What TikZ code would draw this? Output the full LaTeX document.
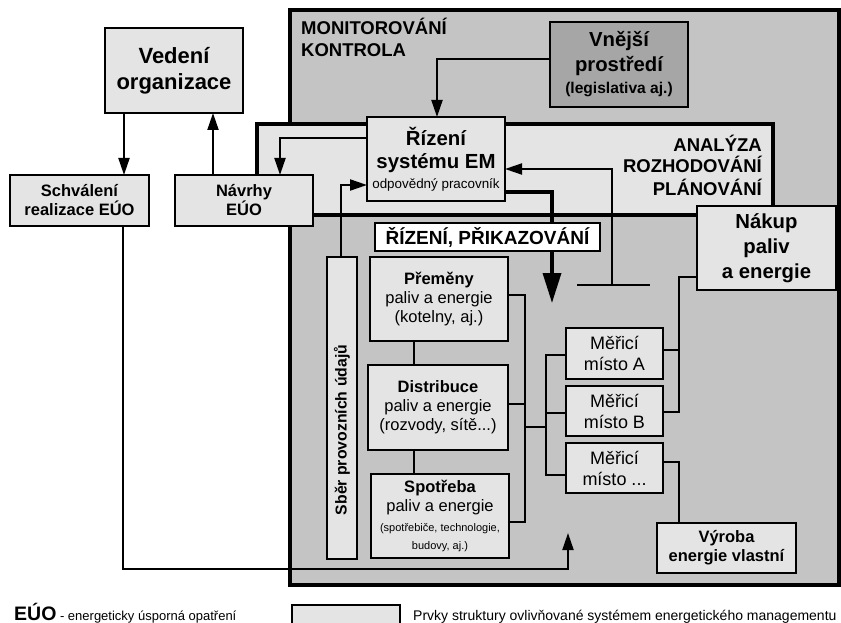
\documentclass[tikz,border=0pt]{standalone}
\usepackage{fontspec}
\setmainfont{Liberation Sans}
\usetikzlibrary{arrows.meta}
\definecolor{midg}{RGB}{196,196,196}
\definecolor{lightg}{RGB}{228,228,228}
\definecolor{darkg}{RGB}{166,166,166}
\newcommand{\fsz}[2]{\fontsize{#1}{#2}\selectfont}
\tikzset{
  region/.style={draw, line width=3.4pt, anchor=north west, outer sep=0pt, inner sep=0pt},
  box/.style={draw, line width=2.4pt, fill=lightg, anchor=north west, outer sep=0pt, inner sep=0pt, align=center},
  conn/.style={line width=2pt},
  arr/.style={conn, -{Triangle[length=17pt,width=11pt]}},
  thickarr/.style={line width=3.4pt, -{Triangle[length=30pt,width=18pt]}},
  midb/.style={font=\bfseries\fsz{16.5}{19}},
  title/.style={inner sep=0pt, font=\bfseries\fsz{18.5}{22}},
}
\begin{document}
\begin{tikzpicture}[x=1pt,y=-1pt]
\useasboundingbox (0,0) rectangle (841,623);

% regions
\node[region, fill=midg, minimum width=549pt, minimum height=575pt] (mon) at (290,10) {};
\node[region, fill=lightg, minimum width=516pt, minimum height=91pt] (ana) at (257,124) {};
\node[title, anchor=base west] (monA) at (301,35) {MONITOROVÁNÍ};
\node[title, anchor=base west] (monB) at (301,57) {KONTROLA};
\node[title, anchor=base east] (anaA) at (762,152) {ANALÝZA};
\node[title, anchor=base east] (anaB) at (762,173) {ROZHODOVÁNÍ};
\node[title, anchor=base east] (anaC) at (762,195) {PLÁNOVÁNÍ};

% boxes
\node[box, minimum width=138pt, minimum height=85pt, font=\bfseries\fsz{22}{26}] (ved) at (105,28) {Vedení\\organizace};
\node[box, minimum width=139pt, minimum height=51pt, midb] (sch) at (10,175) {Schválení\\realizace EÚO};
\node[box, minimum width=138pt, minimum height=51pt, midb] (nav) at (175,175) {Návrhy\\EÚO};
\node[box, minimum width=138pt, minimum height=84pt, font=\bfseries\fsz{20.4}{23}] (riz) at (367,117) {Řízení\\systému EM\\[-3pt]{\mdseries\fsz{13.4}{15}odpovědný pracovník}};
\node[box, fill=darkg, minimum width=138pt, minimum height=85pt, font=\bfseries\fsz{20.3}{25}] (vne) at (550,22) {Vnější\\prostředí\\[-3pt]{\fsz{15.6}{19}(legislativa aj.)}};
\node[box, minimum width=139pt, minimum height=84pt, font=\bfseries\fsz{20.3}{25}] (nak) at (697,206) {Nákup\\paliv\\a energie};
\node[box, minimum width=138pt, minimum height=84pt, midb] (pre) at (370,257) {Přeměny\\{\mdseries paliv a energie}\\{\mdseries (kotelny, aj.)}};
\node[box, minimum width=140pt, minimum height=85pt, midb] (dis) at (368,365) {Distribuce\\{\mdseries paliv a energie}\\{\mdseries (rozvody, sítě...)}};
\node[box, minimum width=138pt, minimum height=84pt, midb] (spo) at (371,474) {Spotřeba\\{\mdseries paliv a energie}\\[1pt]{\mdseries\fsz{11}{13}(spotřebiče, technologie,}\\[-1pt]{\mdseries\fsz{11}{13}budovy, aj.)}};
\node[box, minimum width=30pt, minimum height=302pt] (sber) at (327,257) {};
\node[rotate=90, inner sep=0pt, font=\bfseries\fsz{15.8}{18}] (sberT) at (342,430) {Sběr provozních údajů};
\node[box, minimum width=97pt, minimum height=51pt, font=\fsz{18}{21}] (merA) at (566,328) {Měřicí\\místo A};
\node[box, minimum width=97pt, minimum height=50pt, font=\fsz{18}{21}] (merB) at (566,386) {Měřicí\\místo B};
\node[box, minimum width=97pt, minimum height=50pt, font=\fsz{18}{21}] (mer3) at (566,443) {Měřicí\\místo ...};
\node[box, minimum width=139pt, minimum height=50pt, midb] (vyr) at (657,523) {Výroba\\energie vlastní};

% free ends
\coordinate (upTip) at (568,533);
\coordinate (barL) at (577,285);
\coordinate (barR) at (650,285);
\coordinate (barM) at (612,285);
\coordinate (ctrlTip) at (552,303);

% upper connectors
\draw[arr] (124,0 |- ved.south) -- (124,0 |- sch.north);
\draw[arr] (213,0 |- nav.north) -- (213,0 |- ved.south);
\draw[arr] (123,0 |- sch.south) -- (123,569) -- (upTip |- 0,569) -- (upTip);
\draw[thickarr] (riz.east |- 0,192) -- (ctrlTip |- 0,192) -- (ctrlTip);
\draw[conn] (barL) -- (barR);
\draw[arr] (barM) -- (612,169) -- (riz.east |- 0,169);
\draw[arr] (vne.west |- 0,59) -- (437,59) -- (437,0 |- riz.north);
\draw[arr] (riz.west |- 0,138) -- (280,138) -- (280,0 |- nav.north);
\draw[arr] (341,0 |- sber.north) -- (341,185) -- (riz.west |- 0,185);

% label box over the thick arrow
\node[box, fill=white, minimum width=225pt, minimum height=28pt, font=\bfseries\fsz{19}{22}] (lab) at (375,223) {ŘÍZENÍ, PŘIKAZOVÁNÍ};

% lower connectors
\draw[conn] (pre.east |- 0,295) -- (525,295) -- (525,522) -- (spo.east |- 0,522);
\draw[conn] (dis.east |- 0,404) -- (525,404);
\draw[conn] (525,427) -- (546,427);
\draw[conn] (merA.west |- 0,355) -- (546,355) -- (546,475) -- (mer3.west |- 0,475);
\draw[conn] (546,413) -- (merB.west |- 0,413);
\draw[conn] (nak.west |- 0,277) -- (679,277) -- (679,412) -- (merB.east |- 0,412);
\draw[conn] (679,350) -- (merA.east |- 0,350);
\draw[conn] (mer3.east |- 0,462) -- (679,462) -- (679,0 |- vyr.north);
\draw[conn] (414,0 |- pre.south) -- (414,0 |- dis.north);
\draw[conn] (414,0 |- dis.south) -- (414,0 |- spo.north);

% legend
\node[anchor=base west, inner sep=0pt] (leg1) at (14,620) {{\bfseries\fsz{19.5}{22}EÚO}{\fsz{13}{15} - energeticky úsporná opatření}};
\node[box, line width=2pt, minimum width=108pt, minimum height=24pt] (legbox) at (292,605) {};
\node[anchor=base west, inner sep=0pt, font=\fsz{14}{16}] (leg2) at (413,620) {Prvky struktury ovlivňované systémem energetického managementu};
\end{tikzpicture}
\end{document}
